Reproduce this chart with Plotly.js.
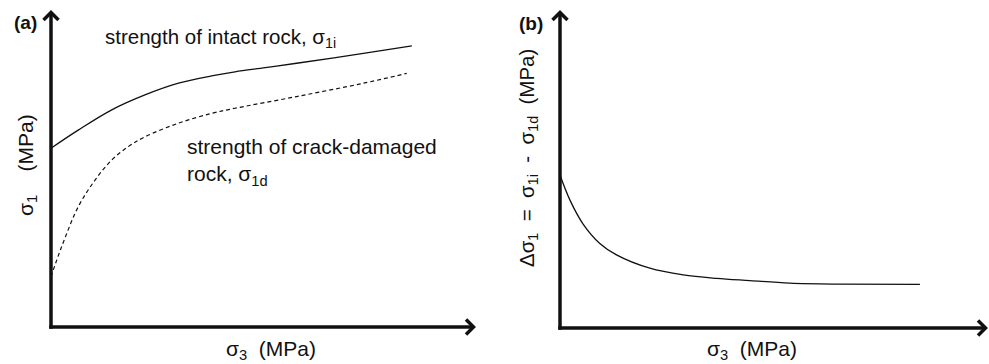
<!DOCTYPE html>
<html>
<head>
<meta charset="utf-8">
<script src="https://cdn.plot.ly/plotly-3.0.1.min.js"></script>
<style>html,body{margin:0;padding:0;background:#fff;}#chart{width:989px;height:364px;}</style>
</head>
<body>
<div id="chart"></div>
<script>
// ---- Data (arbitrary units; axes have no ticks) ----
const sigma3_intact = [0, 6.4, 14.3, 22.1, 30.0, 37.8, 43.3, 50.4, 57.8, 73.5, 84.9];
const sigma1_intact = [56.4, 62.1, 68.5, 73.2, 76.9, 79.2, 80.5, 81.8, 83.2, 86.3, 88.7];
const sigma3_damaged = [0, 2.5, 6.4, 10.4, 14.3, 18.2, 22.1, 30.0, 37.8, 43.3, 57.8, 73.5, 83.7];
const sigma1_damaged = [15.9, 25.3, 37.9, 46.4, 52.7, 56.9, 60.0, 64.3, 67.4, 69.0, 72.7, 76.9, 80.0];
const sigma3_diff = [0, 2.3, 5.4, 9.3, 13.2, 21.0, 28.8, 36.6, 44.4, 53.7, 65.4, 84.1];
const delta_sigma1 = [48.1, 40.3, 32.7, 26.6, 23.0, 18.8, 16.7, 15.6, 14.9, 14.1, 13.8, 13.7];

const panelLabels = ['(a)', '(b)'];
const curveLabelIntact = 'strength of intact rock, σ<sub>1i</sub>';
const curveLabelDamaged = 'strength of crack-damaged<br>rock, σ<sub>1d</sub>';
const xTitle = 'σ<sub>3</sub>\u00a0 (MPa)';
const yTitleA = 'σ<sub>1</sub>\u00a0\u00a0\u00a0 (MPa)';
const yTitleB = 'Δσ<sub>1</sub>\u00a0 = \u00a0σ<sub>1i</sub>\u00a0 - \u00a0σ<sub>1d</sub>\u00a0 (MPa)';

// ---- Layout helpers ----
const W = 989, H = 364;
const px = x => x / W;
const py = y => 1 - y / H;
const INK = '#111';
const FONT = 'Liberation Sans, Arial, Helvetica, sans-serif';

// Panel geometry: pixel position of the origin and of the arrow tips (data 0..100)
const panels = [
  {ox: 51, oy: 327, tx: 476, ty: 10, xr: [-5, 103], yr: [-5, 103]},
  {ox: 560, oy: 328, tx: 988, ty: 10, xr: [-5, 100.2], yr: [-5, 103]}
];

function axesFor(p) {
  const sx = (p.tx - p.ox) / 100, sy = (p.oy - p.ty) / 100;
  const xd = [(p.ox + p.xr[0] * sx) / W, Math.min(1, (p.ox + p.xr[1] * sx) / W)];
  const yd = [(H - (p.oy - p.yr[0] * sy)) / H, Math.min(1, (H - (p.oy - p.yr[1] * sy)) / H)];
  return {sx: sx, sy: sy, xd: xd, yd: yd};
}
const geo = panels.map(axesFor);

const traces = [
  {x: sigma3_intact, y: sigma1_intact, xaxis: 'x', yaxis: 'y', mode: 'lines',
   line: {color: INK, width: 1.3, shape: 'spline', smoothing: 1.0}, name: 'intact', hoverinfo: 'skip'},
  {x: sigma3_damaged, y: sigma1_damaged, xaxis: 'x', yaxis: 'y', mode: 'lines',
   line: {color: INK, width: 1.2, dash: '4px,3px', shape: 'spline', smoothing: 1.0}, name: 'damaged', hoverinfo: 'skip'},
  {x: sigma3_diff, y: delta_sigma1, xaxis: 'x2', yaxis: 'y2', mode: 'lines',
   line: {color: INK, width: 1.3, shape: 'spline', smoothing: 1.0}, name: 'difference', hoverinfo: 'skip'}
];

function hiddenAxis(domain, range, anchor) {
  return {domain: domain, range: range, visible: false, fixedrange: true, anchor: anchor};
}

// Axis lines with open chevron arrowheads
function axisShapes(xr, yr, g) {
  const lw = 3.5;
  const style = {color: INK, width: lw};
  return [
    {type: 'line', xref: xr, yref: yr, x0: -lw / 2 / g.sx, y0: 0, x1: 100 - 2 / g.sx, y1: 0, line: style},
    {type: 'line', xref: xr, yref: yr, x0: 0, y0: -lw / 2 / g.sy, x1: 0, y1: 100 - 2 / g.sy, line: style},
    {type: 'path', xref: xr, yref: yr, xsizemode: 'pixel', ysizemode: 'pixel', xanchor: 100, yanchor: 0,
     path: 'M-10,-7.5L-2.5,0L-10,7.5', line: style, fillcolor: 'rgba(0,0,0,0)'},
    {type: 'path', xref: xr, yref: yr, xsizemode: 'pixel', ysizemode: 'pixel', xanchor: 0, yanchor: 100,
     path: 'M-7.5,-10L0,-2.5L7.5,-10', line: style, fillcolor: 'rgba(0,0,0,0)'}
  ];
}

function textAnn(text, x, y, opts) {
  return Object.assign({xref: 'paper', yref: 'paper', x: px(x), y: py(y), text: text,
    showarrow: false, xanchor: 'left', yanchor: 'middle', align: 'left',
    font: {family: FONT, size: 21, color: INK}}, opts || {});
}

const titleFont = {family: FONT, size: 21, color: INK};
const annotations = [
  textAnn('<b>' + panelLabels[0] + '</b>', 12, 22, {font: {family: FONT, size: 19, color: INK}}),
  textAnn('<b>' + panelLabels[1] + '</b>', 517, 23, {font: {family: FONT, size: 19, color: INK}}),
  textAnn(curveLabelIntact, 103, 38, {font: {family: FONT, size: 20.5, color: INK}}),
  textAnn(curveLabelDamaged, 185, 162),
  textAnn(xTitle, 271, 350, {xanchor: 'center', font: titleFont}),
  textAnn(xTitle, 752, 350, {xanchor: 'center', font: titleFont}),
  textAnn(yTitleA, 27, 165, {xanchor: 'center', textangle: -90, font: titleFont}),
  textAnn(yTitleB, 528, 158, {xanchor: 'center', textangle: -90, font: {family: FONT, size: 20.5, color: INK}})
];

const shapes = [].concat(axisShapes('x', 'y', geo[0]), axisShapes('x2', 'y2', geo[1]));

const layout = {
  width: W, height: H,
  margin: {l: 0, r: 0, t: 0, b: 0, pad: 0},
  paper_bgcolor: '#fff', plot_bgcolor: 'rgba(0,0,0,0)',
  showlegend: false,
  font: {family: FONT, size: 20, color: INK},
  xaxis: hiddenAxis(geo[0].xd, panels[0].xr, 'y'),
  yaxis: hiddenAxis(geo[0].yd, panels[0].yr, 'x'),
  xaxis2: hiddenAxis(geo[1].xd, panels[1].xr, 'y2'),
  yaxis2: hiddenAxis(geo[1].yd, panels[1].yr, 'x2'),
  shapes: shapes,
  annotations: annotations
};

Plotly.newPlot('chart', traces, layout, {staticPlot: true, displayModeBar: false});
</script>
</body>
</html>
